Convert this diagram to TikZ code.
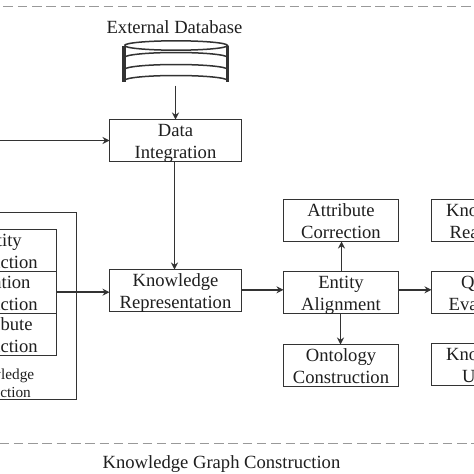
\documentclass[tikz,border=0pt]{standalone}
\usepackage{fontspec}
\setmainfont{Liberation Serif}
\usetikzlibrary{arrows.meta}
\definecolor{ink}{gray}{0.2}
\definecolor{inktext}{gray}{0.12}
\tikzset{
  x=1pt,y=-1pt,
  boxn/.style={draw=ink,line width=1.5pt,outer sep=0pt,minimum width=#1,minimum height=42pt,inner sep=0pt,anchor=north west,text=inktext,font=\fontsize{18.6}{22.5}\selectfont,align=center,text height=39pt,text depth=3pt},
  boxn/.default=132pt,
  conn/.style={draw=ink,line width=1.5pt,-{Stealth[length=7pt,width=7pt]}},
  frame/.style={draw=ink,line width=1.5pt},
  sep/.style={draw=black!40,line width=1.2pt,dash pattern=on 9.5pt off 4.8pt},
  lab/.style={text=inktext,font=\fontsize{18.6}{22}\selectfont,inner sep=0pt},
}
\begin{document}
\begin{tikzpicture}
\useasboundingbox (-0.5,-0.5) rectangle (473.5,473.5);
\clip (-0.5,-0.5) rectangle (473.5,473.5);
\fill[white] (-0.5,-0.5) rectangle (473.5,473.5);
\draw[sep] (3,6) -- (474,6);
\draw[sep] (-1,442.7) -- (474,442.7);
\node[lab] (title) at (174,27) {External Database};
\node[lab] (foot) at (221,464) {Knowledge Graph Construction};
% database
\fill[ink] (121,45) rectangle (125,81);
\fill[ink] (225,45) rectangle (228.5,81);
\draw[frame,fill=white] (124,45) arc[start angle=180,end angle=540,x radius=51.5,y radius=4.7];
\draw[frame] (124,57) arc[start angle=180,end angle=360,x radius=51.5,y radius=5];
\draw[frame] (124,69) arc[start angle=180,end angle=360,x radius=51.5,y radius=5];
\draw[frame] (124,80) arc[start angle=180,end angle=360,x radius=51.5,y radius=5];
\coordinate (dbbot) at (175,85);
% boxes
\node[boxn] (data) at (109,119) {Data\\Integration};
\node[boxn] (know) at (109,269) {Knowledge\\Representation};
\node[boxn=115pt] (attr) at (283,199) {Attribute\\Correction};
\node[boxn=115pt] (ent) at (283,271) {Entity\\Alignment};
\node[boxn=115pt] (onto) at (283,344) {Ontology\\Construction};
\node[boxn=115pt] (kr) at (431,199) {Knowledge\\Reasoning};
\node[boxn=115pt] (qe) at (431,271) {Quality\\Evaluation};
\node[boxn=115pt] (ku) at (431,343) {Knowledge\\Update};
% left
\node[frame,outer sep=0pt,minimum width=116pt,minimum height=187pt,inner sep=0pt,anchor=north west] (outer) at (-40,212) {};
\node[boxn=115pt] (e1) at (-59,229) {Entity\\Extraction};
\node[boxn=115pt] (e2) at (-59,271) {Relation\\Extraction};
\node[boxn=115pt] (e3) at (-59,313) {Attribute\\Extraction};
\node[lab,align=center,font=\fontsize{15.3}{18}\selectfont] (kx) at (-1.5,383) {Knowledge\\Extraction};
\coordinate (src) at (-1,140);
\coordinate (e2r) at (56,291.7);
% connectors
\draw[conn] (dbbot) -- (data.north-|dbbot);
\draw[conn] (src) -- (data.west|-src);
\draw[conn] (data.south-|174,0) -- (know.north-|174,0);
\draw[conn] (e2r) -- (know.west|-e2r);
\draw[conn] (know.east|-0,289.3) -- (ent.west|-0,289.3);
\draw[conn] (ent.north-|341,0) -- (attr.south-|341,0);
\draw[conn] (ent.south-|340,0) -- (onto.north-|340,0);
\draw[conn] (ent.east|-0,289.3) -- (qe.west|-0,289.3);
\end{tikzpicture}
\end{document}
